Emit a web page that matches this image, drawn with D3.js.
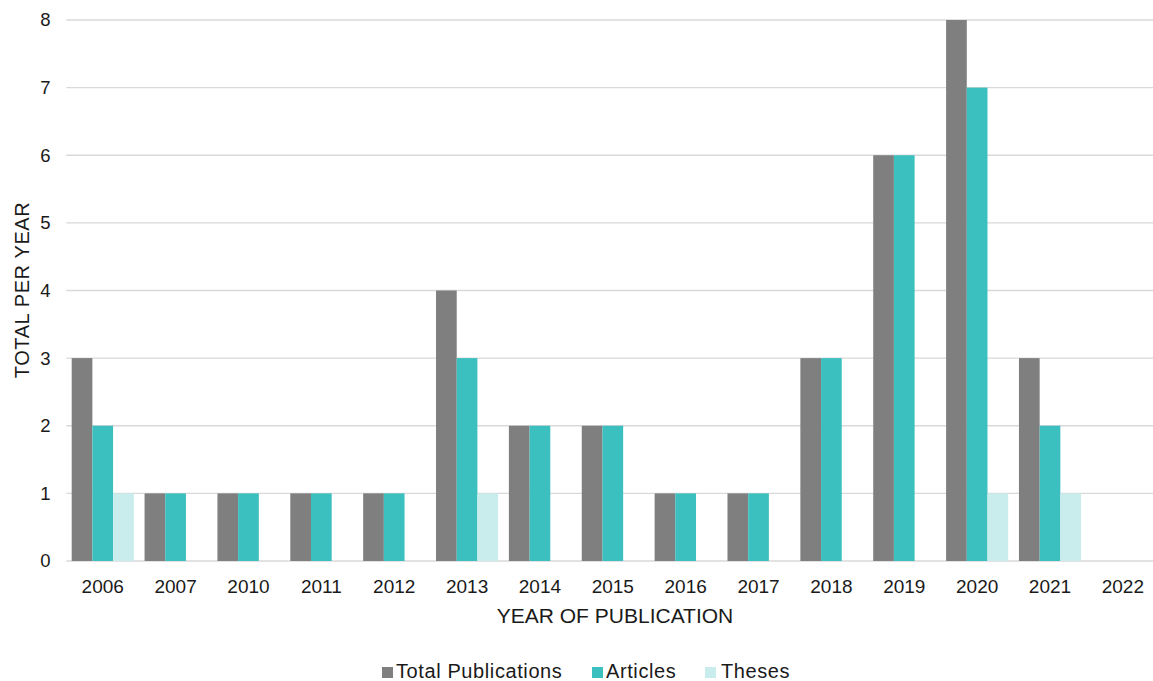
<!DOCTYPE html>
<html>
<head>
<meta charset="utf-8">
<script src="https://cdn.jsdelivr.net/npm/d3@7"></script>
<style>
  html, body { margin: 0; padding: 0; background: #fff; }
  svg { display: block; font-family: "Liberation Sans", Arial, sans-serif; }
</style>
</head>
<body>
<svg id="chart" width="1153" height="681"></svg>
<script>
// Publications per year, split by type
const years = ["2006","2007","2010","2011","2012","2013","2014","2015","2016","2017","2018","2019","2020","2021","2022"];
const totalPublications = [3,1,1,1,1,4,2,2,1,1,3,6,8,3,0];
const articles = [2,1,1,1,1,3,2,2,1,1,3,6,7,2,0];
const theses = [1,0,0,0,0,1,0,0,0,0,0,0,1,1,0];
const seriesNames = ["Total Publications", "Articles", "Theses"];
const yTicks = [0,1,2,3,4,5,6,7,8];

const colors = ["#7f7f7f", "#3bbfbf", "#c9ecec"];
const seriesValues = [totalPublications, articles, theses];
const textColor = "#1a1a1a";

const svg = d3.select("#chart");
const plotLeft = 66.3, plotRight = 1159.3, plotTop = 20, plotBottom = 561;

const x = d3.scaleBand().domain(years).range([plotLeft, plotRight])
  .paddingInner(0.148).paddingOuter(0.074);
const xs = d3.scaleBand().domain(seriesNames).range([0, x.bandwidth()]);
const y = d3.scaleLinear().domain([0, 8]).range([plotBottom, plotTop]);

// gridlines
svg.append("g").selectAll("line").data(yTicks).join("line")
  .attr("x1", plotLeft).attr("x2", plotRight)
  .attr("y1", d => y(d)).attr("y2", d => y(d))
  .attr("stroke", "#d9d9d9").attr("stroke-width", 1.3);

// bars
const rows = years.map((yr, i) => ({ yr, vals: seriesValues.map((s, k) => ({ name: seriesNames[k], v: s[i], k })) }));
svg.append("g").selectAll("g").data(rows).join("g")
  .attr("transform", d => `translate(${x(d.yr)},0)`)
  .selectAll("rect").data(d => d.vals.filter(e => e.v > 0)).join("rect")
  .attr("x", d => xs(d.name)).attr("width", xs.bandwidth())
  .attr("y", d => y(d.v)).attr("height", d => y(0) - y(d.v))
  .attr("fill", d => colors[d.k]);

// y axis labels
const yAxis = d3.axisLeft(y).tickValues(yTicks).tickSize(0).tickPadding(0).tickFormat(d3.format("d"));
const gy = svg.append("g").attr("transform", "translate(50.5,0)").call(yAxis);
gy.select(".domain").remove();
gy.selectAll("text").attr("font-size", 18.5).attr("fill", textColor)
  .attr("font-family", "Liberation Sans, Arial, sans-serif");

// x axis labels
const xAxis = d3.axisBottom(x).tickSize(0).tickPadding(0);
const gx = svg.append("g").attr("transform", `translate(0,${plotBottom})`).call(xAxis);
gx.select(".domain").remove();
gx.selectAll("text").attr("font-size", 19).attr("fill", textColor)
  .attr("dy", null).attr("y", 32)
  .attr("font-family", "Liberation Sans, Arial, sans-serif");

// axis titles
svg.append("text").attr("x", 615).attr("y", 623).attr("text-anchor", "middle")
  .attr("font-size", 21).attr("fill", textColor).text("YEAR OF PUBLICATION");
svg.append("text").attr("transform", "translate(29,290) rotate(-90)")
  .attr("text-anchor", "middle").attr("font-size", 20).attr("letter-spacing", 0.6)
  .attr("fill", textColor).text("TOTAL PER YEAR");

// legend
const legendX = [382, 592, 705];
const lg = svg.append("g").selectAll("g").data(seriesNames).join("g")
  .attr("transform", (d, i) => `translate(${legendX[i]},667)`);
lg.append("rect").attr("width", 11).attr("height", 11).attr("fill", (d, i) => colors[i]);
lg.append("text").attr("x", (d, i) => i === 2 ? 16 : 14).attr("y", 11.3)
  .attr("font-size", 20).attr("letter-spacing", 0.6).attr("fill", textColor)
  .text(d => d);
</script>
</body>
</html>
